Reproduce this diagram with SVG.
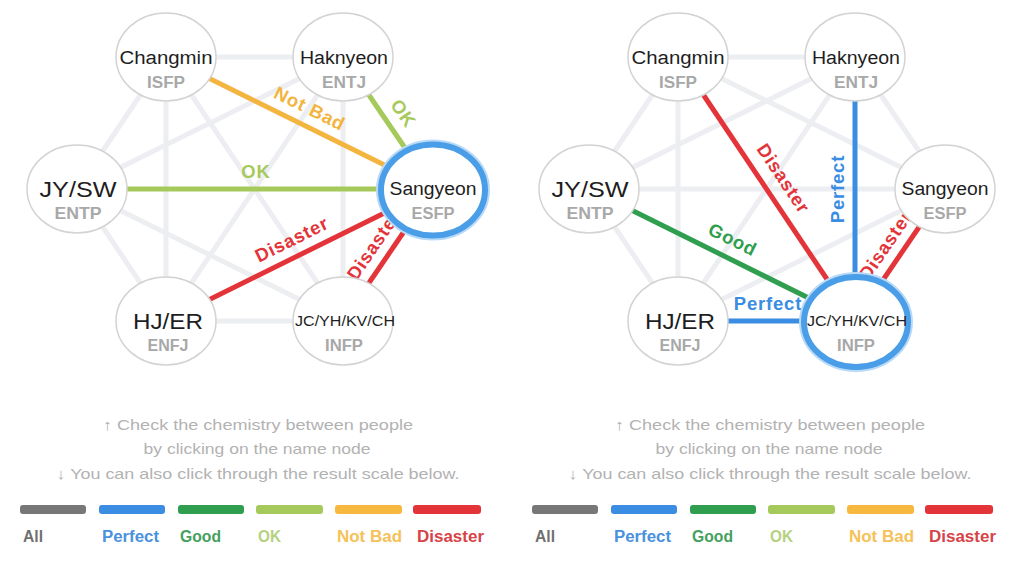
<svg xmlns="http://www.w3.org/2000/svg" width="1024" height="573" viewBox="0 0 1024 573">
<style>
  .g{stroke:#eceef1;stroke-width:5}
  .e{stroke-width:5;fill:none}
  .pf{stroke:#3a8de2}.gd{stroke:#2f9e4e}.ok{stroke:#a6c95b}.nb{stroke:#f3b53f}.ds{stroke:#e3343a}
  .node ellipse{fill:#fff;stroke:#d3d3d3;stroke-width:1.5}
  .node ellipse.sel{stroke:#4a9de7;stroke-width:6}
  .node ellipse.glow{stroke:#b9daf7;stroke-width:10}
  text{font-family:"Liberation Sans",Arial,"DejaVu Sans",sans-serif}
  .nm{font-weight:400;fill:#1e1e1e;text-anchor:middle}
  .ty{font-weight:700;fill:#a8a8a8;font-size:16px;text-anchor:middle}
  .lbl{font-weight:700;font-size:18.5px;text-anchor:middle;letter-spacing:0.8px}
  .ins{font-size:15px;fill:#b2b2b2;text-anchor:middle}
  .leg{font-weight:700;font-size:16px}
</style>

<rect width="1024" height="573" fill="#fff"/>

<!-- ===== LEFT PANEL ===== -->
<g id="connectors-left">
  <line class="g" x1="166" y1="57" x2="343" y2="57"/>
  <line class="g" x1="166" y1="57" x2="77" y2="189"/>
  <line class="g" x1="166" y1="57" x2="166" y2="321"/>
  <line class="g" x1="166" y1="57" x2="343" y2="321"/>
  <line class="g" x1="343" y1="57" x2="77" y2="189"/>
  <line class="g" x1="343" y1="57" x2="166" y2="321"/>
  <line class="g" x1="343" y1="57" x2="343" y2="321"/>
  <line class="g" x1="77" y1="189" x2="166" y2="321"/>
  <line class="g" x1="77" y1="189" x2="343" y2="321"/>
  <line class="g" x1="166" y1="321" x2="343" y2="321"/>

  <line class="e nb" x1="166" y1="57" x2="433" y2="189"/>
  <line class="e ok" x1="343" y1="57" x2="433" y2="189"/>
  <line class="e ok" x1="77" y1="189" x2="433" y2="189"/>
  <line class="e ds" x1="166" y1="321" x2="433" y2="189"/>
  <line class="e ds" x1="343" y1="321" x2="433" y2="189"/>

  <g transform="translate(302,124) rotate(26.31)"><text class="lbl" y="-11" fill="#f2b43e">Not Bad</text></g>
  <g transform="translate(389,123) rotate(55.71)"><text class="lbl" y="-11" fill="#a6c95b">OK</text></g>
  <g transform="translate(256,189)"><text class="lbl" y="-11" fill="#a6c95b">OK</text></g>
  <g transform="translate(299.5,255) rotate(-26.31)"><text class="lbl" y="-11" fill="#e3343a">Disaster</text></g>
  <g transform="translate(388,255) rotate(-55.71)"><text class="lbl" y="-11" fill="#e3343a">Disaster</text></g>
</g>

<g id="L-changmin" class="node">
  <ellipse cx="166" cy="57" rx="50" ry="44"/>
  <text class="nm" x="166" y="63.5" font-size="18" textLength="93" lengthAdjust="spacingAndGlyphs">Changmin</text>
  <text class="ty" x="166" y="88" textLength="38" lengthAdjust="spacingAndGlyphs">ISFP</text>
</g>
<g id="L-haknyeon" class="node">
  <ellipse cx="343" cy="57" rx="50" ry="44"/>
  <text class="nm" x="344" y="63.5" font-size="18" textLength="88" lengthAdjust="spacingAndGlyphs">Haknyeon</text>
  <text class="ty" x="344" y="88" textLength="44" lengthAdjust="spacingAndGlyphs">ENTJ</text>
</g>
<g id="L-jysw" class="node">
  <ellipse cx="77" cy="189" rx="50" ry="44"/>
  <text class="nm" x="78" y="197" font-size="22" textLength="77" lengthAdjust="spacingAndGlyphs">JY/SW</text>
  <text class="ty" x="78" y="219" textLength="47" lengthAdjust="spacingAndGlyphs">ENTP</text>
</g>
<g id="L-sangyeon" class="node">
  <ellipse class="glow" cx="433" cy="190" rx="52" ry="45.5"/>
  <ellipse class="sel" cx="433" cy="190" rx="52" ry="45.5"/>
  <text class="nm" x="433" y="195" font-size="18" textLength="87" lengthAdjust="spacingAndGlyphs">Sangyeon</text>
  <text class="ty" x="433" y="219" textLength="43" lengthAdjust="spacingAndGlyphs">ESFP</text>
</g>
<g id="L-hjer" class="node">
  <ellipse cx="166" cy="321" rx="50" ry="44"/>
  <text class="nm" x="168" y="329" font-size="22" textLength="70" lengthAdjust="spacingAndGlyphs">HJ/ER</text>
  <text class="ty" x="168" y="351" textLength="41" lengthAdjust="spacingAndGlyphs">ENFJ</text>
</g>
<g id="L-jc" class="node">
  <ellipse cx="343" cy="321" rx="50" ry="44"/>
  <text class="nm" x="345" y="326" font-size="14" textLength="100" lengthAdjust="spacingAndGlyphs">JC/YH/KV/CH</text>
  <text class="ty" x="344" y="351" textLength="38" lengthAdjust="spacingAndGlyphs">INFP</text>
</g>

<g id="L-instructions">
  <text class="ins" x="258" y="430" textLength="310" lengthAdjust="spacingAndGlyphs">↑ Check the chemistry between people</text>
  <text class="ins" x="257" y="454" textLength="227" lengthAdjust="spacingAndGlyphs">by clicking on the name node</text>
  <text class="ins" x="258" y="479" textLength="403" lengthAdjust="spacingAndGlyphs">↓ You can also click through the result scale below.</text>
</g>

<g id="L-legend">
  <rect x="20" y="505" width="66" height="9" rx="3" fill="#777"/>
  <rect x="99" y="505" width="66" height="9" rx="3" fill="#3a8de2"/>
  <rect x="178" y="505" width="66" height="9" rx="3" fill="#2f9e4e"/>
  <rect x="256" y="505" width="67" height="9" rx="3" fill="#a6c95b"/>
  <rect x="335" y="505" width="67" height="9" rx="3" fill="#f6b83f"/>
  <rect x="413" y="505" width="68" height="9" rx="3" fill="#e3343a"/>
  <text class="leg" x="23" y="542" fill="#707070" textLength="20" lengthAdjust="spacingAndGlyphs">All</text>
  <text class="leg" x="102" y="542" fill="#4a92de" textLength="57" lengthAdjust="spacingAndGlyphs">Perfect</text>
  <text class="leg" x="180" y="542" fill="#45a060" textLength="41" lengthAdjust="spacingAndGlyphs">Good</text>
  <text class="leg" x="258" y="542" fill="#b6d17f" textLength="23" lengthAdjust="spacingAndGlyphs">OK</text>
  <text class="leg" x="337" y="542" fill="#f4c259" textLength="65" lengthAdjust="spacingAndGlyphs">Not Bad</text>
  <text class="leg" x="417" y="542" fill="#d6444a" textLength="67" lengthAdjust="spacingAndGlyphs">Disaster</text>
</g>

<!-- ===== RIGHT PANEL ===== -->
<g id="connectors-right">
  <line class="g" x1="678" y1="57" x2="855" y2="57"/>
  <line class="g" x1="678" y1="57" x2="589" y2="189"/>
  <line class="g" x1="678" y1="57" x2="678" y2="321"/>
  <line class="g" x1="678" y1="57" x2="945" y2="189"/>
  <line class="g" x1="855" y1="57" x2="589" y2="189"/>
  <line class="g" x1="855" y1="57" x2="678" y2="321"/>
  <line class="g" x1="855" y1="57" x2="945" y2="189"/>
  <line class="g" x1="589" y1="189" x2="678" y2="321"/>
  <line class="g" x1="589" y1="189" x2="945" y2="189"/>
  <line class="g" x1="678" y1="321" x2="945" y2="189"/>

  <line class="e ds" x1="678" y1="57" x2="855" y2="321"/>
  <line class="e pf" x1="855" y1="57" x2="855" y2="321"/>
  <line class="e ds" x1="945" y1="189" x2="855" y2="321"/>
  <line class="e gd" x1="589" y1="189" x2="855" y2="321"/>
  <line class="e pf" x1="678" y1="321" x2="855" y2="321"/>

  <g transform="translate(769,188) rotate(56.16)"><text class="lbl" y="-11" fill="#e3343a">Disaster</text></g>
  <g transform="translate(855,189) rotate(-90)"><text class="lbl" y="-11" fill="#3a8de2">Perfect</text></g>
  <g transform="translate(900,255) rotate(-55.71)"><text class="lbl" y="-11" fill="#e3343a">Disaster</text></g>
  <g transform="translate(725,255) rotate(26.39)"><text class="lbl" y="-11" fill="#2f9e4e">Good</text></g>
  <g transform="translate(768,321)"><text class="lbl" y="-11" fill="#3a8de2">Perfect</text></g>
</g>

<g id="R-changmin" class="node">
  <ellipse cx="678" cy="57" rx="50" ry="44"/>
  <text class="nm" x="678" y="63.5" font-size="18" textLength="93" lengthAdjust="spacingAndGlyphs">Changmin</text>
  <text class="ty" x="678" y="88" textLength="38" lengthAdjust="spacingAndGlyphs">ISFP</text>
</g>
<g id="R-haknyeon" class="node">
  <ellipse cx="855" cy="57" rx="50" ry="44"/>
  <text class="nm" x="856" y="63.5" font-size="18" textLength="88" lengthAdjust="spacingAndGlyphs">Haknyeon</text>
  <text class="ty" x="856" y="88" textLength="44" lengthAdjust="spacingAndGlyphs">ENTJ</text>
</g>
<g id="R-jysw" class="node">
  <ellipse cx="589" cy="189" rx="50" ry="44"/>
  <text class="nm" x="590" y="197" font-size="22" textLength="77" lengthAdjust="spacingAndGlyphs">JY/SW</text>
  <text class="ty" x="590" y="219" textLength="47" lengthAdjust="spacingAndGlyphs">ENTP</text>
</g>
<g id="R-sangyeon" class="node">
  <ellipse cx="945" cy="189" rx="50" ry="44"/>
  <text class="nm" x="945" y="195" font-size="18" textLength="87" lengthAdjust="spacingAndGlyphs">Sangyeon</text>
  <text class="ty" x="945" y="219" textLength="43" lengthAdjust="spacingAndGlyphs">ESFP</text>
</g>
<g id="R-hjer" class="node">
  <ellipse cx="678" cy="321" rx="50" ry="44"/>
  <text class="nm" x="680" y="329" font-size="22" textLength="70" lengthAdjust="spacingAndGlyphs">HJ/ER</text>
  <text class="ty" x="680" y="351" textLength="41" lengthAdjust="spacingAndGlyphs">ENFJ</text>
</g>
<g id="R-jc" class="node">
  <ellipse class="glow" cx="856" cy="322" rx="52" ry="45"/>
  <ellipse class="sel" cx="856" cy="322" rx="52" ry="45"/>
  <text class="nm" x="857" y="326" font-size="14" textLength="100" lengthAdjust="spacingAndGlyphs">JC/YH/KV/CH</text>
  <text class="ty" x="856" y="351" textLength="38" lengthAdjust="spacingAndGlyphs">INFP</text>
</g>

<g id="R-instructions">
  <text class="ins" x="770" y="430" textLength="310" lengthAdjust="spacingAndGlyphs">↑ Check the chemistry between people</text>
  <text class="ins" x="769" y="454" textLength="227" lengthAdjust="spacingAndGlyphs">by clicking on the name node</text>
  <text class="ins" x="770" y="479" textLength="403" lengthAdjust="spacingAndGlyphs">↓ You can also click through the result scale below.</text>
</g>

<g id="R-legend">
  <rect x="532" y="505" width="66" height="9" rx="3" fill="#777"/>
  <rect x="611" y="505" width="66" height="9" rx="3" fill="#3a8de2"/>
  <rect x="690" y="505" width="66" height="9" rx="3" fill="#2f9e4e"/>
  <rect x="768" y="505" width="67" height="9" rx="3" fill="#a6c95b"/>
  <rect x="847" y="505" width="67" height="9" rx="3" fill="#f6b83f"/>
  <rect x="925" y="505" width="68" height="9" rx="3" fill="#e3343a"/>
  <text class="leg" x="535" y="542" fill="#707070" textLength="20" lengthAdjust="spacingAndGlyphs">All</text>
  <text class="leg" x="614" y="542" fill="#4a92de" textLength="57" lengthAdjust="spacingAndGlyphs">Perfect</text>
  <text class="leg" x="692" y="542" fill="#45a060" textLength="41" lengthAdjust="spacingAndGlyphs">Good</text>
  <text class="leg" x="770" y="542" fill="#b6d17f" textLength="23" lengthAdjust="spacingAndGlyphs">OK</text>
  <text class="leg" x="849" y="542" fill="#f4c259" textLength="65" lengthAdjust="spacingAndGlyphs">Not Bad</text>
  <text class="leg" x="929" y="542" fill="#d6444a" textLength="67" lengthAdjust="spacingAndGlyphs">Disaster</text>
</g>
</svg>
